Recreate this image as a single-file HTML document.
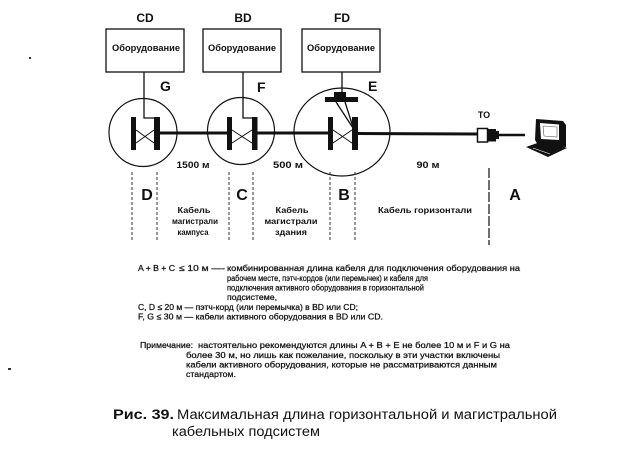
<!DOCTYPE html>
<html><head><meta charset="utf-8"><style>
html,body{margin:0;padding:0;background:#fff;}
svg{display:block;}
text{font-family:"Liberation Sans","DejaVu Sans",sans-serif;fill:#111;}
.b{font-weight:bold;}
.t text{stroke:#111;stroke-width:0.25;}
</style></head><body>
<svg width="626" height="453" viewBox="0 0 626 453" xmlns="http://www.w3.org/2000/svg">
<!-- stray marks -->
<rect x="29" y="57" width="2" height="2" fill="#333"/>
<rect x="8" y="368" width="3" height="2" fill="#333"/>

<!-- top labels -->
<text class="b" x="145" y="22" font-size="12" text-anchor="middle">CD</text>
<text class="b" x="243" y="22" font-size="12" text-anchor="middle">BD</text>
<text class="b" x="342" y="22" font-size="12" text-anchor="middle">FD</text>

<!-- boxes -->
<g fill="none" stroke="#111" stroke-width="1.3">
<rect x="106" y="29" width="78" height="43"/>
<rect x="203" y="29" width="78" height="43"/>
<rect x="302" y="29" width="78" height="43"/>
</g>
<text class="b" x="112" y="51" font-size="9" textLength="68" lengthAdjust="spacingAndGlyphs">Оборудование</text>
<text class="b" x="208" y="51" font-size="9" textLength="68" lengthAdjust="spacingAndGlyphs">Оборудование</text>
<text class="b" x="307" y="51" font-size="9" textLength="68" lengthAdjust="spacingAndGlyphs">Оборудование</text>

<!-- G F E -->
<text class="b" x="160" y="91" font-size="14">G</text>
<text class="b" x="257" y="92" font-size="14">F</text>
<text class="b" x="368" y="91" font-size="14">E</text>

<!-- circles -->
<g fill="none" stroke="#111" stroke-width="1.2">
<circle cx="143" cy="132.5" r="34"/>
<circle cx="241" cy="131" r="33.5"/>
<ellipse cx="342" cy="132" rx="48" ry="44"/>
</g>

<!-- connectors from boxes -->
<g fill="none" stroke="#111" stroke-width="1.3">
<polyline points="144,72 144,118 155,118"/>
<polyline points="243,72 243,118 253,118"/>
<line x1="342" y1="72" x2="342" y2="92"/>
<line x1="336" y1="102" x2="353" y2="128"/>
<line x1="345" y1="102" x2="353" y2="127"/>
</g>
<!-- FD top bar -->
<rect x="325" y="97" width="33" height="5" fill="#111"/>
<rect x="334" y="92" width="12" height="10" fill="#111"/>

<!-- bars -->
<g fill="#111">
<rect x="131" y="117" width="5" height="33"/>
<rect x="154" y="117" width="6" height="33"/>
<rect x="227" y="117" width="5" height="33"/>
<rect x="252" y="117" width="5.5" height="33"/>
<rect x="328" y="117" width="5" height="33"/>
<rect x="352" y="117" width="6" height="33"/>
</g>
<!-- bowties -->
<g stroke="#111" stroke-width="1" fill="none">
<path d="M136,130 L154,143 M136,143 L154,130"/>
<path d="M232,130 L252,143 M232,143 L252,130"/>
<path d="M333,130 L352,143 M333,143 L352,130"/>
</g>

<!-- main line -->
<g stroke="#111" stroke-width="3">
<line x1="160" y1="133" x2="227" y2="133"/>
<line x1="257" y1="133" x2="328" y2="133"/>
<line x1="358" y1="133.5" x2="477" y2="134"/>
</g>
<line x1="498" y1="135" x2="525" y2="135" stroke="#111" stroke-width="2.5"/>

<!-- TO plug -->
<text class="b" x="484" y="118" font-size="9" text-anchor="middle">TO</text>
<rect x="477.5" y="128.5" width="10" height="13.5" fill="#fff" stroke="#111" stroke-width="1.5"/>
<rect x="487" y="129" width="9" height="12.5" fill="#111"/>
<rect x="495" y="131" width="4" height="8" fill="#111"/>

<!-- computer -->
<g>
<polygon points="536,119 563,121 566,125 566,147 538,145 535,140" fill="#111"/>
<polygon points="540,123 559,124.5 559,140 541,139" fill="#fff"/>
<polygon points="543,126 557,127 557,137 544,136" fill="#fff" stroke="#555" stroke-width="0.6"/>
<polygon points="526,147 546,140 567,148 548,157" fill="#111"/>
<line x1="533" y1="148" x2="550" y2="154" stroke="#fff" stroke-width="0.6"/>
</g>

<!-- distances -->
<text class="b" x="193" y="168" font-size="9" text-anchor="middle" textLength="33" lengthAdjust="spacingAndGlyphs">1500 м</text>
<text class="b" x="288" y="168" font-size="9" text-anchor="middle" textLength="30" lengthAdjust="spacingAndGlyphs">500 м</text>
<text class="b" x="428" y="168" font-size="9" text-anchor="middle" textLength="23" lengthAdjust="spacingAndGlyphs">90 м</text>

<!-- dashed lines -->
<g stroke="#333" stroke-width="1" stroke-dasharray="3,2" fill="none">
<line x1="132" y1="172" x2="132" y2="242"/>
<line x1="157" y1="172" x2="157" y2="242"/>
<line x1="229" y1="172" x2="229" y2="242"/>
<line x1="253" y1="172" x2="253" y2="242"/>
<line x1="330" y1="172" x2="330" y2="242"/>
<line x1="355" y1="172" x2="355" y2="242"/>
</g>
<line x1="489" y1="168" x2="489" y2="245" stroke="#222" stroke-width="1.3" stroke-dasharray="10,2"/>

<!-- D C B A -->
<text class="b" x="147" y="200" font-size="16" text-anchor="middle">D</text>
<text class="b" x="242" y="200" font-size="16" text-anchor="middle">C</text>
<text class="b" x="344" y="200" font-size="16" text-anchor="middle">B</text>
<text class="b" x="515" y="200" font-size="16" text-anchor="middle">A</text>

<!-- cable labels -->
<g font-size="8.5" text-anchor="middle">
<text class="b" x="194" y="213" textLength="33" lengthAdjust="spacingAndGlyphs">Кабель</text>
<text class="b" x="195" y="224" textLength="46" lengthAdjust="spacingAndGlyphs">магистрали</text>
<text class="b" x="193" y="235" textLength="31" lengthAdjust="spacingAndGlyphs">кампуса</text>
<text class="b" x="292" y="213" textLength="33" lengthAdjust="spacingAndGlyphs">Кабель</text>
<text class="b" x="291" y="224" textLength="53" lengthAdjust="spacingAndGlyphs">магистрали</text>
<text class="b" x="291" y="235" textLength="32" lengthAdjust="spacingAndGlyphs">здания</text>
<text class="b" x="425" y="213" textLength="94" lengthAdjust="spacingAndGlyphs">Кабель горизонтали</text>
</g>

<!-- text block 1 -->
<g class="t" font-size="8.5">
<text x="138" y="271" textLength="37" lengthAdjust="spacingAndGlyphs">A + B + C</text>
<text x="179" y="271" textLength="46" lengthAdjust="spacingAndGlyphs">≤ 10 м —-</text>
<text x="227" y="271" textLength="293" lengthAdjust="spacingAndGlyphs">комбинированная длина кабеля для подключения оборудования на</text>
<text x="227" y="281" textLength="201" lengthAdjust="spacingAndGlyphs">рабочем месте, пэтч-кордов (или перемычек) и кабеля для</text>
<text x="227" y="290.5" textLength="197" lengthAdjust="spacingAndGlyphs">подключения активного оборудования в горизонтальной</text>
<text x="227" y="300" textLength="50" lengthAdjust="spacingAndGlyphs">подсистеме,</text>
<text x="138" y="310" textLength="220" lengthAdjust="spacingAndGlyphs">C, D  ≤ 20 м — пэтч-корд (или перемычка) в BD или CD;</text>
<text x="138" y="319.5" textLength="245" lengthAdjust="spacingAndGlyphs">F, G  ≤ 30 м — кабели активного оборудования в BD или CD.</text>
</g>

<!-- note -->
<g class="t" font-size="8.5">
<text x="140" y="348" textLength="53" lengthAdjust="spacingAndGlyphs">Примечание:</text>
<text x="198" y="348" textLength="312" lengthAdjust="spacingAndGlyphs">настоятельно рекомендуются длины A + B + E не более 10 м  и F и G на</text>
<text x="186" y="358" textLength="314" lengthAdjust="spacingAndGlyphs">более 30 м, но лишь как пожелание, поскольку в эти участки включены</text>
<text x="186" y="367.5" textLength="311" lengthAdjust="spacingAndGlyphs">кабели активного оборудования, которые не рассматриваются данным</text>
<text x="186" y="377" textLength="50" lengthAdjust="spacingAndGlyphs">стандартом.</text>
</g>

<!-- caption -->
<text class="b" x="113" y="419" font-size="13.5" textLength="61" lengthAdjust="spacingAndGlyphs">Рис. 39.</text>
<text x="177" y="419" font-size="13.5" textLength="380" lengthAdjust="spacingAndGlyphs">Максимальная длина горизонтальной и магистральной</text>
<text x="172" y="436" font-size="13.5" textLength="148" lengthAdjust="spacingAndGlyphs">кабельных подсистем</text>
</svg>
</body></html>
